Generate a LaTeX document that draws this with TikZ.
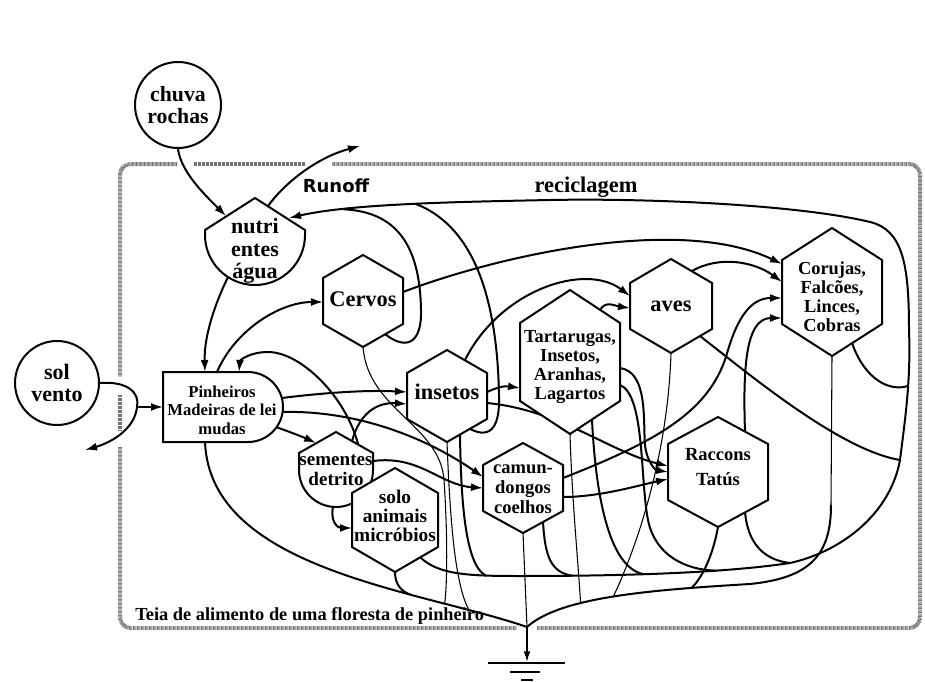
\documentclass[tikz,border=0pt]{standalone}
\usepackage{fontspec}
\setmainfont{Liberation Serif}
\newfontfamily\sansrun{DejaVu Sans}
\usetikzlibrary{arrows.meta,calc}
\pgfdeclarelayer{bg}
\pgfsetlayers{bg,main}
\tikzset{
 web/.style={line width=1.5pt},
 thinweb/.style={line width=0.8pt},
 arr/.style={line width=1.5pt,-{Latex[length=9pt,width=6pt]}},
 shapeline/.style={line width=1.5pt,draw=black,fill=white},
 fHex/.style={font=\bfseries\fontsize{16.8}{19}\selectfont,align=center,inner sep=0pt},
 fFour/.style={font=\bfseries\fontsize{13.8}{14.3}\selectfont,align=center,inner sep=0pt},
 fRac/.style={font=\bfseries\fontsize{13.9}{19}\selectfont,align=center,inner sep=0pt},
 fCam/.style={font=\bfseries\fontsize{13.9}{15}\selectfont,align=center,inner sep=0pt},
 fSolo/.style={font=\bfseries\fontsize{14.5}{14.4}\selectfont,align=center,inner sep=0pt},
 fSem/.style={font=\bfseries\fontsize{14.3}{15}\selectfont,align=center,inner sep=0pt},
 fCirc/.style={font=\bfseries\fontsize{16.3}{16.5}\selectfont,align=center,inner sep=0pt},
 fSol/.style={font=\bfseries\fontsize{16.5}{17}\selectfont,align=center,inner sep=0pt},
 fNut/.style={font=\bfseries\fontsize{16.5}{17}\selectfont,align=center,inner sep=0pt},
 fPin/.style={font=\bfseries\fontsize{12.5}{14}\selectfont,align=center,inner sep=0pt},
 border/.style={line width=3pt,draw=black!55,dash pattern=on 0.6pt off 0.4pt,rounded corners=8pt},
}
\newcommand\HexNode[9]{%
 \coordinate (#1) at (#2,#3);
 \filldraw[shapeline] (#2,#3-#5) -- (#2+#4,#3-#6) -- (#2+#4,#3+#6) -- (#2,#3+#5) -- (#2-#4,#3+#6) -- (#2-#4,#3-#6) -- cycle;
 \node[#8] (#1-t) at (#2,#7) {#9};}
\begin{document}
\begin{tikzpicture}[x=0.75pt,y=-0.75pt]
\useasboundingbox (0,0) rectangle (925,682);
% ---------- nodes ----------
\node[draw,circle,line width=1.5pt,minimum size=64.5pt,fCirc] (chuva) at (178,105) {chuva\\rochas};
\node[draw,circle,line width=1.5pt,minimum size=63pt,fSol] (sol) at (57,383) {sol\\vento};
\filldraw[shapeline] (205,230) -- (255,198) -- (305,230) -- (305,235) .. controls (305,262.6) and (282.6,285) .. (255,285) .. controls (227.4,285) and (205,262.6) .. (205,235) -- cycle;
\node[fNut] (nutri) at (255,251) {nutri\\entes\\água};
\filldraw[shapeline] (163,372) -- (248,372) .. controls (267.3,372) and (283,387.7) .. (283,407) .. controls (283,426.3) and (267.3,442) .. (248,442) -- (163,442) -- cycle;
\node[fPin] (pin) at (222,410) {Pinheiros\\Madeiras de lei\\mudas};
\filldraw[shapeline] (299,453) -- (336,432) -- (373,453) -- (373,470) .. controls (373,490.4) and (356.4,507) .. (336,507) .. controls (315.6,507) and (299,490.4) .. (299,470) -- cycle;
\node[fSem] (sem) at (336,470) {sementes\\detrito};
\HexNode{cervos}{363}{301}{40}{46}{23}{299}{fHex}{Cervos}
\HexNode{insetos}{447}{396}{40}{46}{23}{392}{fHex}{insetos}
\HexNode{tart}{570}{362}{50}{72}{39}{367}{fFour}{Tartarugas,\\Insetos,\\Aranhas,\\Lagartos}
\HexNode{aves}{671}{306}{41}{47}{23}{306}{fHex}{aves}
\HexNode{coruj}{832}{292}{50}{64}{32}{297}{fFour}{Corujas,\\Falcões,\\Linces,\\Cobras}
\HexNode{racc}{718}{472}{50}{55}{28}{467}{fRac}{Raccons\\Tatús}
\HexNode{camun}{523}{488}{40}{45}{23}{489}{fCam}{camun-\\dongos\\coelhos}
\HexNode{solo}{395}{520}{43}{52}{27}{516}{fSolo}{solo\\animais\\micróbios}
% ---------- labels ----------
\node[font=\sansrun\bfseries\fontsize{13.5}{16}\selectfont,inner sep=0pt] (runofflbl) at (336,186) {Runoff};
\node[fHex] (reclbl) at (586,187) {reciclagem};
\node[font=\bfseries\fontsize{13.8}{16}\selectfont,inner sep=0pt,anchor=base west] (teia) at (135,620) {Teia de alimento de uma floresta de pinheiro};
% ---------- free points ----------
\coordinate (G) at (527,627);
\coordinate (gnd) at (527,662);
\coordinate (runoff) at (360,146);
\coordinate (solj) at (137,407);
\coordinate (solout) at (85,450);
\coordinate (b1r0) at (790,563);
\coordinate (b1r1) at (900,460);
\begin{pgfonlayer}{bg}
% border
\draw[border] (177,164) -- (120,164) -- (120,377);
\draw[border] (120,395) -- (120,430);
\draw[border] (120,447) -- (120,628) -- (517,628);
\draw[border] (537,628) -- (920,628) -- (920,164) -- (332,164);
\draw[border] (305,164) -- (193,164);
% buses
\draw[web] ($(pin)+(-17,32)$) .. controls (210,570) and (420,590) .. (G)
   coordinate[pos=.7] (la70) coordinate[pos=.78] (la78) coordinate[pos=.84] (la84);
\draw[thinweb] ($(coruj)+(0,64)$) -- (831,505);
\draw[web] (831,505) .. controls (831,555) and (810,578) .. (750,584)
   .. controls (650,590) and (560,597) .. (G)
   coordinate[pos=.2] (b2c) coordinate[pos=.5] (b2b) coordinate[pos=.65] (b2a);
\draw[arr] ($(solo)+(25,37)$) .. controls (438,575) and (470,576) .. (520,576) coordinate[pos=.75] (b1a)
   .. controls (640,576) and (730,572) .. (b1r0) coordinate[pos=.15] (b1b) coordinate[pos=.38] (b1c) coordinate[pos=.65] (b1d)
   .. controls (840,552) and (890,515) .. (b1r1)
   .. controls (905,420) and (911,380) .. (909,330) coordinate[pos=.6] (b1e)
   .. controls (909,265) and (903,230) .. (870,222)
   .. controls (800,205) and (650,198) .. (550,200)
   .. controls (450,202) and (350,204) .. ($(nutri)+(34,-33)$) coordinate[pos=.46] (rc2) coordinate[pos=.74] (rc1);
% arrows
\draw[arr] (chuva.south) .. controls (181,172) and (205,195) .. ($(nutri)+(-29,-35)$);
\draw[arr] ($(nutri)+(13,-45)$) .. controls (283,185) and (315,158) .. (runoff);
\draw[arr] ($(nutri)+(-27,26)$) .. controls (212,310) and (204,340) .. ($(pin)+(-17,-38)$);
\draw[web] (sol.east) .. controls (128,381) and (140,393) .. (solj);
\draw[arr] (solj) -- ($(pin)+(-59,-3)$);
\draw[arr] (solj) .. controls (135,428) and (113,442) .. (solout);
\draw[arr] ($(pin)+(-5,-38)$) .. controls (235,330) and (280,302) .. ($(cervos)+(-40,1)$);
\draw[arr] ($(sem)+(22,-26)$) .. controls (345,395) and (300,352) .. (268,352) .. controls (250,352) and (240,360) .. ($(pin)+(17,-38)$);
\draw[arr] ($(pin)+(60,-12)$) .. controls (330,392) and (370,390) .. ($(insetos)+(-40,-4)$);
\draw[arr] ($(pin)+(60,2)$) .. controls (360,410) and (430,440) .. ($(camun)+(-40,-11)$);
\draw[arr] ($(pin)+(54,17)$) .. controls (290,432) and (303,437) .. ($(sem)+(-20,-27)$);
\draw[arr] ($(sem)+(16,-29)$) .. controls (360,412) and (378,402) .. ($(insetos)+(-40,8)$);
\draw[arr] ($(sem)+(-3,37)$) .. controls (330,522) and (338,528) .. ($(solo)+(-43,8)$);
\draw[arr] ($(sem)+(37,-9)$) .. controls (420,455) and (440,485) .. ($(camun)+(-40,0)$);
\draw[arr] ($(insetos)+(40,-4)$) .. controls (500,386) and (506,386) .. ($(tart)+(-50,26)$);
\draw[arr] ($(insetos)+(18,-36)$) .. controls (500,290) and (585,262) .. ($(aves)+(-41,-10)$);
\draw[arr] ($(tart)+(30,-52)$) .. controls (606,300) and (615,306) .. ($(aves)+(-41,2)$);
\draw[arr] ($(cervos)+(40,-9)$) .. controls (500,255) and (680,215) .. ($(coruj)+(-50,-28)$);
\draw[arr] ($(aves)+(21,-35)$) .. controls (720,255) and (755,262) .. ($(coruj)+(-50,-10)$);
\draw[arr] ($(camun)+(40,-10)$) .. controls (660,440) and (712,410) .. (728,350) .. controls (740,310) and (755,298) .. ($(coruj)+(-50,6)$);
\draw[arr] ($(racc)+(27,-40)$) .. controls (743,370) and (745,318) .. ($(coruj)+(-50,26)$);
\draw[arr] ($(insetos)+(40,7)$) .. controls (560,410) and (610,452) .. ($(racc)+(-50,-6)$);
\draw[arr] ($(tart)+(50,6)$) .. controls (648,372) and (643,420) .. (645,445) .. controls (647,462) and (655,470) .. ($(racc)+(-50,0)$);
\draw[arr] ($(camun)+(40,9)$) .. controls (600,497) and (640,485) .. ($(racc)+(-50,7)$);
% web lines to buses
\draw[web] ($(cervos)+(22,33)$) .. controls (405,350) and (422,345) .. (421,310) .. controls (420,250) and (400,212) .. (rc1);
\draw[web] ($(insetos)+(23,33)$) .. controls (492,440) and (500,425) .. (499,395) .. controls (497,290) and (470,225) .. (rc2);
\draw[thinweb] ($(cervos)+(0,46)$) .. controls (368,410) and (440,425) .. (444,480) .. controls (448,540) and (447,585) .. (la78);
\draw[thinweb] ($(insetos)+(0,46)$) .. controls (450,520) and (455,585) .. (la84);
\draw[web] ($(insetos)+(13,39)$) .. controls (461,500) and (465,565) .. (b1a);
\draw[web] ($(solo)+(0,52)$) .. controls (395,585) and (402,592) .. (la70);
\draw[thinweb] ($(camun)+(0,45)$) -- (G);
\draw[web] ($(camun)+(20,34)$) .. controls (545,555) and (550,572) .. (b1b);
\draw[thinweb] ($(tart)+(0,72)$) .. controls (572,500) and (578,560) .. (b2a);
\draw[web] ($(tart)+(22,58)$) .. controls (596,500) and (610,568) .. (b1c);
\draw[web] ($(tart)+(50,23)$) .. controls (645,395) and (640,480) .. (648,520) .. controls (655,555) and (685,570) .. (b1d);
\draw[thinweb] ($(aves)+(0,47)$) .. controls (668,450) and (640,540) .. (b2b);
\draw[web] ($(aves)+(29,30)$) .. controls (750,375) and (840,450) .. (b1r1);
\draw[web] ($(racc)+(0,55)$) .. controls (712,560) and (700,580) .. (b2c);
\draw[web] ($(racc)+(27,40)$) .. controls (748,545) and (765,560) .. (b1r0);
\draw[web] ($(coruj)+(20,51)$) .. controls (865,380) and (890,392) .. (b1e);
\end{pgfonlayer}
% ground
\draw[line width=1pt,-{Latex[length=8pt,width=5pt]}] (G) -- (gnd);
\draw[line width=1.3pt] ($(gnd)+(-39,1)$) -- ($(gnd)+(38,1)$);
\draw[line width=1.3pt] ($(gnd)+(-17,10)$) -- ($(gnd)+(13,10)$);
\draw[line width=1.3pt] ($(gnd)+(-6,18)$) -- ($(gnd)+(6,18)$);
\end{tikzpicture}
\end{document}
